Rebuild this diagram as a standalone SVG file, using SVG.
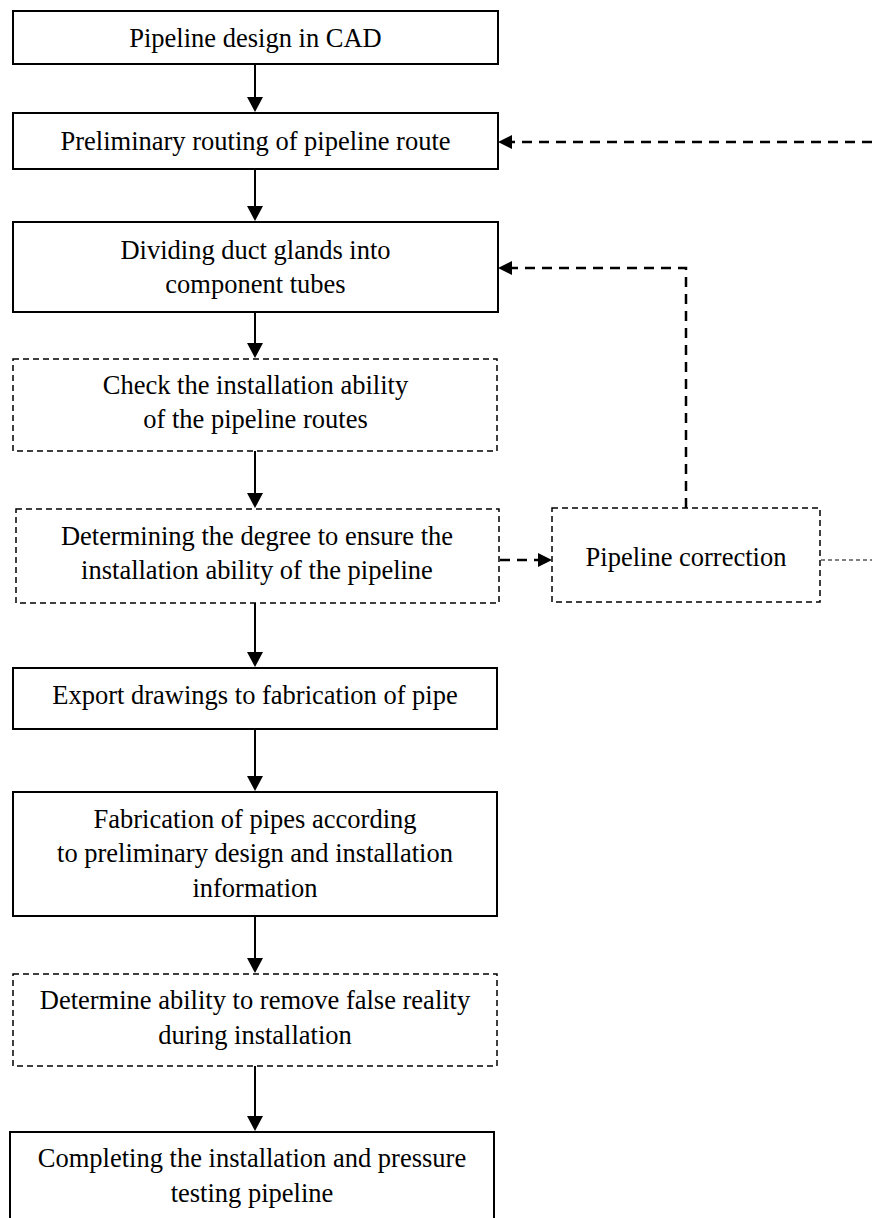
<svg xmlns="http://www.w3.org/2000/svg" width="872" height="1218" viewBox="0 0 872 1218">
<style>
.box{fill:#fff;stroke:#000;stroke-width:2}
.dbox{fill:#fff;stroke:#000;stroke-width:1.5;stroke-dasharray:6 4}
.t{font-family:"Liberation Serif","Times New Roman",serif;font-size:26.5px;fill:#000;text-anchor:middle}
.ln{fill:none;stroke:#000;stroke-width:2}
.dl{fill:none;stroke:#000;stroke-width:2.5;stroke-dasharray:10 7}
.thin{fill:none;stroke:#000;stroke-width:1;stroke-dasharray:4 3}
</style>
<defs>
<marker id="ah" viewBox="0 0 15 16" refX="7" refY="8" markerWidth="15" markerHeight="16" markerUnits="userSpaceOnUse" orient="auto"><path d="M0,0 L15,8 L0,16 z" fill="#000"/></marker>
<marker id="ahd" viewBox="0 0 14 14" refX="6" refY="7" markerWidth="14" markerHeight="14" markerUnits="userSpaceOnUse" orient="auto"><path d="M0,0 L14,7 L0,14 z" fill="#000"/></marker>
</defs>
<rect width="872" height="1218" fill="#fff"/>
<g id="connectors">
<path class="ln" d="M255,64 V104" marker-end="url(#ah)"/>
<path class="ln" d="M255,169 V213" marker-end="url(#ah)"/>
<path class="ln" d="M255,312 V350" marker-end="url(#ah)"/>
<path class="ln" d="M255,451 V500" marker-end="url(#ah)"/>
<path class="ln" d="M255,603 V659" marker-end="url(#ah)"/>
<path class="ln" d="M255,729 V783" marker-end="url(#ah)"/>
<path class="ln" d="M255,916 V965" marker-end="url(#ah)"/>
<path class="ln" d="M255,1066 V1123" marker-end="url(#ah)"/>
<path class="dl" d="M872,142 H506" marker-end="url(#ahd)"/>
<path class="dl" d="M686,508 V268 H506" marker-end="url(#ahd)"/>
<path class="dl" d="M500,560 H544" marker-end="url(#ahd)"/>
<path class="thin" d="M821,560 H872"/>
</g>
<g id="n1"><rect class="box" x="13" y="11" width="485" height="53"/><text class="t" x="255.5" y="47">Pipeline design in CAD</text></g>
<g id="n2"><rect class="box" x="13" y="113" width="485" height="56"/><text class="t" x="255.5" y="150">Preliminary routing of pipeline route</text></g>
<g id="n3"><rect class="box" x="13" y="222" width="485" height="90"/><text class="t" x="255.5" y="259">Dividing duct glands into</text><text class="t" x="255.5" y="293">component tubes</text></g>
<g id="n4"><rect class="dbox" x="13" y="359" width="484" height="92"/><text class="t" x="255.5" y="394">Check the installation ability</text><text class="t" x="255.5" y="428">of the pipeline routes</text></g>
<g id="n5"><rect class="dbox" x="16" y="509" width="483" height="94"/><text class="t" x="257" y="545">Determining the degree to ensure the</text><text class="t" x="257" y="579">installation ability of the pipeline</text></g>
<g id="n6"><rect class="dbox" x="552" y="508" width="268" height="94"/><text class="t" x="686" y="566">Pipeline correction</text></g>
<g id="n7"><rect class="box" x="13" y="668" width="484" height="61"/><text class="t" x="255" y="704">Export drawings to fabrication of pipe</text></g>
<g id="n8"><rect class="box" x="13" y="792" width="484" height="124"/><text class="t" x="255" y="828">Fabrication of pipes according</text><text class="t" x="255" y="862">to preliminary design and installation</text><text class="t" x="255" y="897">information</text></g>
<g id="n9"><rect class="dbox" x="13" y="974" width="484" height="92"/><text class="t" x="255" y="1009">Determine ability to remove false reality</text><text class="t" x="255" y="1044">during installation</text></g>
<g id="n10"><rect class="box" x="10" y="1132" width="484" height="120"/><text class="t" x="252" y="1167">Completing the installation and pressure</text><text class="t" x="252" y="1202">testing pipeline</text></g>
</svg>
